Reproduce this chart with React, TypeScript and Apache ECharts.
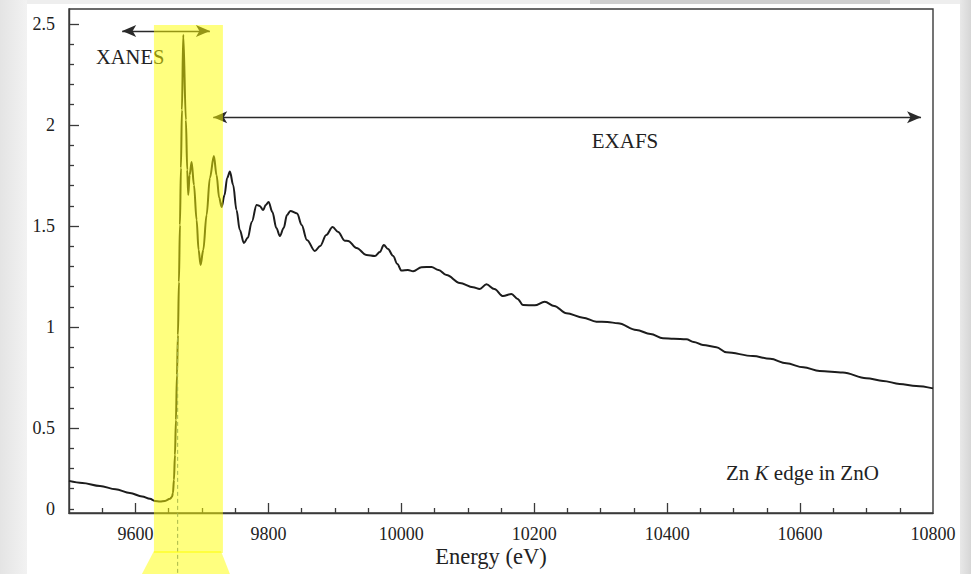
import React, { useEffect, useRef } from "react";
import * as echarts from "echarts";

// Zn K-edge absorption spectrum of ZnO
const energy = [
  9500, 9520, 9546.6, 9570, 9591.7, 9610, 9621.8, 9629.3, 9637, 9644.4,
  9651.9, 9654.9, 9656.4, 9657.9, 9659.4, 9660.9, 9662.4, 9663.9, 9665.4, 9666.9,
  9668.4, 9669.9, 9671.9, 9675.9, 9677.9, 9679.4, 9681.5, 9684.5, 9688, 9692,
  9695, 9698, 9702, 9707, 9712, 9718, 9722, 9726, 9729.6, 9734,
  9738, 9742.1, 9747, 9752, 9757, 9763.2, 9769, 9775, 9782.3, 9787,
  9792.2, 9796, 9800.3, 9806, 9812, 9817.3, 9823, 9828, 9833, 9843.3,
  9850, 9858, 9869.9, 9878, 9887, 9896.6, 9905, 9915, 9920, 9932.6,
  9947.7, 9960.2, 9967.7, 9973.7, 9980, 9987.7, 9994, 10000.3, 10010, 10017.8,
  10030.4, 10045.4, 10056, 10068, 10088, 10108, 10118, 10128.1, 10140, 10153.1,
  10165.7, 10175, 10183.2, 10200.8, 10215.8, 10230, 10248.4, 10273.4, 10293.6, 10310,
  10326, 10353.7, 10375, 10393.7, 10410, 10428.9, 10440, 10453.9, 10474, 10489,
  10529, 10555, 10579.3, 10605, 10629.4, 10664.4, 10699.6, 10725, 10749.7, 10774.8,
  10800,
];
const absorption = [
  0.238, 0.228, 0.213, 0.196, 0.178, 0.161, 0.149, 0.139, 0.136, 0.139,
  0.149, 0.158, 0.178, 0.243, 0.366, 0.54, 0.762, 0.96, 1.223, 1.505,
  1.787, 2.074, 2.446, 2.025, 1.777, 1.653, 1.752, 1.817, 1.703, 1.53,
  1.381, 1.307, 1.381, 1.554, 1.738, 1.846, 1.752, 1.639, 1.594, 1.653,
  1.738, 1.769, 1.703, 1.579, 1.48, 1.416, 1.441, 1.52, 1.604, 1.599,
  1.579, 1.604, 1.619, 1.569, 1.49, 1.45, 1.49, 1.554, 1.574, 1.562,
  1.505, 1.431, 1.376, 1.401, 1.455, 1.495, 1.47, 1.427, 1.426, 1.391,
  1.356, 1.351, 1.371, 1.406, 1.386, 1.351, 1.312, 1.279, 1.282, 1.276,
  1.296, 1.297, 1.282, 1.257, 1.218, 1.196, 1.188, 1.211, 1.188, 1.153,
  1.163, 1.139, 1.109, 1.107, 1.125, 1.104, 1.068, 1.046, 1.026, 1.025,
  1.018, 0.985, 0.965, 0.944, 0.941, 0.939, 0.926, 0.911, 0.9, 0.875,
  0.856, 0.842, 0.82, 0.8, 0.782, 0.774, 0.746, 0.733, 0.718, 0.708,
  0.696,
];

const xLabelValues = [9600, 9800, 10000, 10200, 10400, 10600, 10800];
const xMajorTicks = [9600, 9800, 10000, 10200, 10400, 10600];
const xMinorTicks = [
  9550, 9650, 9700, 9750, 9850, 9900, 9950, 10050, 10100, 10150, 10250, 10300,
  10350, 10450, 10500, 10550, 10650, 10700, 10750,
];
const yLabelValues = [0.1, 0.5, 1, 1.5, 2, 2.5];
const yLabelTexts = ["0", "0.5", "1", "1.5", "2", "2.5"];
const yMajorTicks = [0.5, 1, 1.5, 2, 2.5];
const yMinorTicks = [
  0.1, 0.2, 0.3, 0.4, 0.6, 0.7, 0.8, 0.9, 1.1, 1.2, 1.3, 1.4, 1.6, 1.7, 1.8,
  1.9, 2.1, 2.2, 2.3, 2.4,
];

// annotation positions (data coordinates)
const xanesArrow = [9580, 9712];
const xanesArrowY = 2.465;
const exafsArrow = [9717, 10782];
const exafsArrowY = 2.038;
const bandRange = [9627.8, 9731.6];
const bandTop = 2.495;
const edgeEnergy = 9663.5;
const edgeValue = 0.946;

const X_MIN = 9500;
const X_MAX = 10800;
const Y_MIN = 0.079;
const Y_MAX = 2.574;

const SERIF = "Liberation Serif";
const INK = "#222222";
const W = 971;
const H = 574;

export default function App() {
  const ref = useRef<HTMLDivElement>(null);

  useEffect(() => {
    if (!ref.current) return;
    const chart = echarts.init(ref.current, undefined, { renderer: "svg" });
    const axisCommon = {
      type: "value" as const,
      min: X_MIN,
      max: X_MAX,
    };
    const tickLabel = {
      color: INK,
      fontFamily: SERIF,
      fontSize: 18,
    };
    const option: any = {
      animation: false,
      backgroundColor: "transparent",
      textStyle: { fontFamily: SERIF },
      grid: {
        left: 69,
        right: W - 933,
        top: 9,
        bottom: H - 513,
        show: true,
        borderColor: "#3a3a3a",
        borderWidth: 1.4,
        backgroundColor: "transparent",
      },
      xAxis: [
        {
          ...axisCommon,
          position: "bottom",
          axisLine: { show: true, lineStyle: { color: "#3a3a3a", width: 1.4 } },
          axisTick: {
            show: true,
            inside: true,
            length: 10,
            customValues: xMajorTicks,
            lineStyle: { color: "#3a3a3a", width: 1.3 },
          },
          axisLabel: {
            show: true,
            customValues: xLabelValues,
            formatter: (v: number) => String(v),
            ...tickLabel,
            margin: 12,
          },
          splitLine: { show: false },
        },
        {
          ...axisCommon,
          position: "bottom",
          axisLine: { show: false },
          axisTick: {
            show: true,
            inside: true,
            length: 5,
            customValues: xMinorTicks,
            lineStyle: { color: "#3a3a3a", width: 1.3 },
          },
          axisLabel: { show: false },
          splitLine: { show: false },
        },
      ],
      yAxis: [
        {
          type: "value",
          min: Y_MIN,
          max: Y_MAX,
          position: "left",
          axisLine: { show: true, lineStyle: { color: "#3a3a3a", width: 1.4 } },
          axisTick: {
            show: true,
            inside: true,
            length: 10,
            customValues: yMajorTicks,
            lineStyle: { color: "#3a3a3a", width: 1.3 },
          },
          axisLabel: {
            show: true,
            customValues: yLabelValues,
            formatter: (v: number) => {
              const i = yLabelValues.findIndex((t) => Math.abs(t - v) < 1e-6);
              return i >= 0 ? yLabelTexts[i] : "";
            },
            ...tickLabel,
            margin: 14,
          },
          splitLine: { show: false },
        },
        {
          type: "value",
          min: Y_MIN,
          max: Y_MAX,
          position: "left",
          axisLine: { show: false },
          axisTick: {
            show: true,
            inside: true,
            length: 5,
            customValues: yMinorTicks,
            lineStyle: { color: "#3a3a3a", width: 1.3 },
          },
          axisLabel: { show: false },
          splitLine: { show: false },
        },
      ],
      series: [
        {
          type: "line",
          xAxisIndex: 0,
          yAxisIndex: 0,
          data: energy.map((e, i) => [e, absorption[i]]),
          showSymbol: false,
          smooth: 0.35,
          smoothMonotone: "x",
          lineStyle: { color: "#1c1c1c", width: 2 },
          silent: true,
          markLine: {
            silent: true,
            symbol: ["arrow", "arrow"],
            symbolSize: [9, 14],
            label: { show: false },
            lineStyle: { color: "#2a2a2a", width: 1.3, type: "solid" },
            emphasis: { disabled: true },
            data: [
              [
                { coord: [xanesArrow[0], xanesArrowY] },
                { coord: [xanesArrow[1], xanesArrowY] },
              ],
              [
                { coord: [exafsArrow[0], exafsArrowY] },
                { coord: [exafsArrow[1], exafsArrowY] },
              ],
            ],
          },
        },
      ],
    };
    chart.setOption(option);

    const toPx = (x: number, y: number) =>
      chart.convertToPixel({ gridIndex: 0 }, [x, y]) as number[];
    const bandL = toPx(bandRange[0], bandTop);
    const bandR = toPx(bandRange[1], bandTop);
    const rectBottom = 553;
    const trapTop = 551;
    const edgeTop = toPx(edgeEnergy, edgeValue);
    const textStyle = { fill: INK, fontFamily: SERIF };

    chart.setOption({
      graphic: [
        {
          type: "text",
          left: 96,
          top: 46,
          style: { ...textStyle, text: "XANES", fontSize: 20.5 },
          z: 10,
        },
        {
          type: "text",
          x: 625,
          y: 141,
          style: {
            ...textStyle,
            text: "EXAFS",
            fontSize: 21,
            align: "center",
            verticalAlign: "middle",
          },
          z: 10,
        },
        {
          type: "text",
          x: 726,
          y: 473,
          style: {
            text: "{n|Zn }{i|K}{n| edge in ZnO}",
            verticalAlign: "middle",
            rich: {
              n: { fill: INK, fontFamily: SERIF, fontSize: 21 },
              i: { fill: INK, fontFamily: SERIF, fontSize: 21, fontStyle: "italic" },
            },
          },
          z: 10,
        },
        {
          type: "text",
          x: 491,
          y: 556,
          style: {
            ...textStyle,
            text: "Energy (eV)",
            fontSize: 22.5,
            align: "center",
            verticalAlign: "middle",
          },
          z: 10,
        },
        {
          type: "line",
          shape: { x1: edgeTop[0], y1: edgeTop[1], x2: edgeTop[0], y2: H },
          style: { stroke: "#4f6f92", lineWidth: 1, lineDash: [4, 3] },
          z: 20,
        },
        {
          type: "rect",
          shape: {
            x: bandL[0],
            y: bandL[1],
            width: bandR[0] - bandL[0],
            height: rectBottom - bandL[1],
          },
          style: { fill: "rgba(255,255,0,0.5)" },
          z: 30,
        },
        {
          type: "polygon",
          shape: {
            points: [
              [bandL[0], trapTop],
              [bandR[0] - 2, trapTop],
              [bandR[0] + 7, H],
              [bandL[0] - 12, H],
            ],
          },
          style: { fill: "rgba(255,255,0,0.5)" },
          z: 30,
        },
      ],
    });

    return () => chart.dispose();
  }, []);

  return (
    <div
      style={{
        position: "fixed",
        left: 0,
        top: 0,
        width: W,
        height: H,
        background: "#eeeeee",
        overflow: "hidden",
      }}
    >
      <div
        style={{
          position: "absolute",
          left: 0,
          top: 0,
          width: 27,
          height: H,
          background: "linear-gradient(to right, #e4e4e4, #f2f2f2)",
        }}
      />
      <div
        style={{
          position: "absolute",
          left: 590,
          top: 0,
          width: 300,
          height: 4,
          background: "#cfcfcf",
        }}
      />
      <div
        style={{
          position: "absolute",
          left: 960,
          top: 0,
          width: 11,
          height: H,
          background: "linear-gradient(to right, #e8e8e8, #d6d6d6)",
        }}
      />
      <div
        style={{
          position: "absolute",
          left: 27,
          top: 4,
          width: 933,
          height: H - 4,
          background: "#ffffff",
        }}
      />
      <div
        ref={ref}
        style={{ position: "absolute", left: 0, top: 0, width: W, height: H }}
      />
    </div>
  );
}
